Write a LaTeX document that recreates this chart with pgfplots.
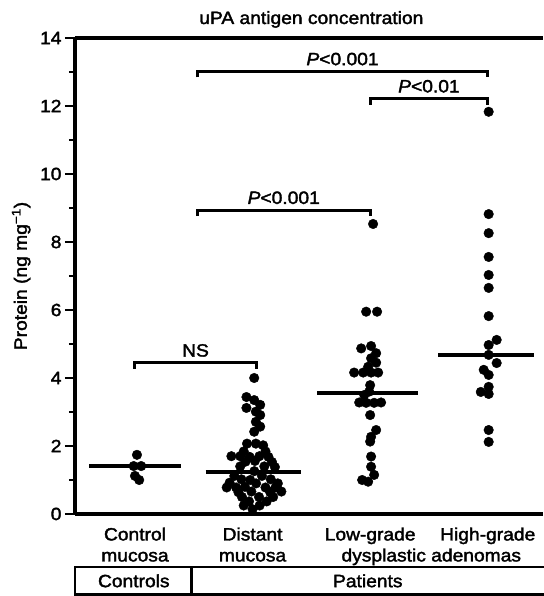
\documentclass[border=0pt]{standalone}
\usepackage{fontspec}
\setmainfont{Liberation Sans}[FakeStretch=1.08, FakeBold=2]
\usepackage{pgfplots}
\pgfplotsset{compat=1.18}
\usetikzlibrary{calc}
\newcommand\fs{\fontsize{17.8}{21}\selectfont}

\begin{document}
\begin{tikzpicture}
\begin{axis}[
  name=ax,
  scale only axis, width=468pt, height=476pt,
  xmin=0.49, xmax=4.47, ymin=0, ymax=14,
  axis x line*=box, axis y line*=left,
  axis line style={line width=3.2pt},
  clip=false,
  ytick={0,2,...,14}, minor ytick={1,3,...,13},
  tick align=outside, major tick length=10pt, minor tick length=6pt,
  ytick style={line width=2.4pt, black},
  xtick={1,2,3,4},
  xticklabels={{Control\\mucosa},{Distant\\mucosa},{Low-grade},{High-grade}},
  extra x ticks={3.52},
  extra x tick labels={{\vphantom{Cl}\\dysplastic adenomas}},
  xtick style={draw=none},
  xticklabel style={align=center, font=\fs},
  yticklabel style={font=\fs},
  /pgf/number format/assume math mode=true,
  ylabel={Protein (ng mg\textsuperscript{−1})},
  ylabel style={font=\fs, at={(axis description cs:-0.115,0.5)}, anchor=center},
  title={uPA antigen concentration},
  title style={font=\fs, at={(axis description cs:0.505,1)}, anchor=base, yshift=8pt},
  mark size=4.8pt,
]
% control mucosa
\addplot[only marks, mark=*, black] coordinates {
  (1.017,1.74) (0.989,1.41) (1.053,1.41) (1.000,1.12) (1.036,1.00)
};
% distant mucosa
\addplot[only marks, mark=*, black] coordinates {
  (2.014,4.00) (1.948,3.44) (2.014,3.35) (2.065,3.21) (1.948,3.12)
  (2.028,3.01) (2.065,2.91) (2.028,2.71) (2.065,2.57) (2.014,2.42)
  (1.953,2.07) (2.028,2.07) (2.090,2.02)
  (1.925,1.84) (2.110,1.84)
  (1.820,1.70) (1.895,1.70) (1.975,1.68) (2.058,1.70) (2.135,1.68)
  (1.940,1.54) (2.020,1.56) (2.165,1.53)
  (1.895,1.40) (2.100,1.40) (2.190,1.38)
  (2.015,1.26)
  (1.845,1.12) (2.080,1.12)
  (1.905,1.02) (1.980,1.00) (2.155,1.02)
  (2.030,0.90) (2.215,0.90) (1.805,0.92)
  (1.780,0.78) (1.860,0.78) (1.935,0.80) (2.110,0.78) (2.195,0.78)
  (1.990,0.66) (2.150,0.64) (2.245,0.66) (1.880,0.64)
  (1.910,0.50) (2.055,0.50) (2.175,0.50)
  (1.970,0.37) (2.120,0.37)
  (1.925,0.25) (2.060,0.25)
  (2.000,0.14)
};
% low-grade dysplastic adenomas
\addplot[only marks, mark=*, black] coordinates {
  (3.025,8.53)
  (2.966,5.95) (3.059,5.95)
  (2.924,4.87) (3.008,4.94) (3.051,4.73) (3.008,4.58) (3.051,4.45) (2.983,4.33)
  (2.864,4.16) (2.941,4.16) (3.008,4.16) (3.068,4.16)
  (3.000,3.79) (2.992,3.60) (2.950,3.50)
  (2.907,3.28) (2.966,3.27) (3.034,3.27) (3.093,3.28)
  (3.000,2.91) (3.051,2.47) (3.008,2.27) (3.000,2.13)
  (3.008,1.69) (3.008,1.39) (3.034,1.15)
  (2.932,1.00) (2.983,0.95)
};
% high-grade dysplastic adenomas
\addplot[only marks, mark=*, black] coordinates {
  (4.008,11.83) (4.008,8.82) (4.008,8.26) (4.008,7.56) (4.008,7.03)
  (4.008,6.65) (4.008,5.82) (4.076,5.12) (4.008,4.97) (4.008,4.68)
  (4.076,4.44) (3.966,4.24) (4.008,4.09) (4.008,3.74) (3.941,3.59)
  (4.008,3.53) (4.008,2.47) (4.008,2.12)
};
% medians
\addplot[black, line width=3.4pt, no marks] coordinates {(0.61,1.41) (1.39,1.41)};
\addplot[black, line width=3.4pt, no marks] coordinates {(1.60,1.24) (2.41,1.24)};
\addplot[black, line width=3.4pt, no marks] coordinates {(2.55,3.56) (3.41,3.56)};
\addplot[black, line width=3.4pt, no marks] coordinates {(3.58,4.68) (4.39,4.68)};

% significance brackets
\draw[line width=3pt] (1,4.27) -- (1,4.45) -- (2.03,4.45) -- (2.03,4.27);
\node[font=\fs, anchor=base] at (1.515,4.63) {NS};
\draw[line width=3pt] (1.53,8.76) -- (1.53,8.94) -- (3,8.94) -- (3,8.76);
\node[font=\fs, anchor=base] at (2.265,9.12) {\textit{P}<0.001};
\draw[line width=3pt] (3,12.04) -- (3,12.22) -- (4,12.22) -- (4,12.04);
\node[font=\fs, anchor=base] at (3.5,12.40) {\textit{P}<0.01};
\draw[line width=3pt] (1.53,12.84) -- (1.53,13.02) -- (4,13.02) -- (4,12.84);
\node[font=\fs, anchor=base] at (2.765,13.20) {\textit{P}<0.001};

% group box
\draw[line width=2.6pt] (4.6,-1.56) -- (0.49,-1.56) -- (0.49,-2.37) -- (4.6,-2.37);
\draw[line width=2.6pt] (1.48,-1.56) -- (1.48,-2.37);
\node[font=\fs] at (0.99,-1.965) {Controls};
\node[font=\fs] at (2.98,-1.965) {Patients};
\end{axis}
\pgfresetboundingbox
\path ($(ax.south west)+(-75pt,-82pt)$) rectangle ($(ax.north east)+(0pt,38pt)$);
\end{tikzpicture}
\end{document}
